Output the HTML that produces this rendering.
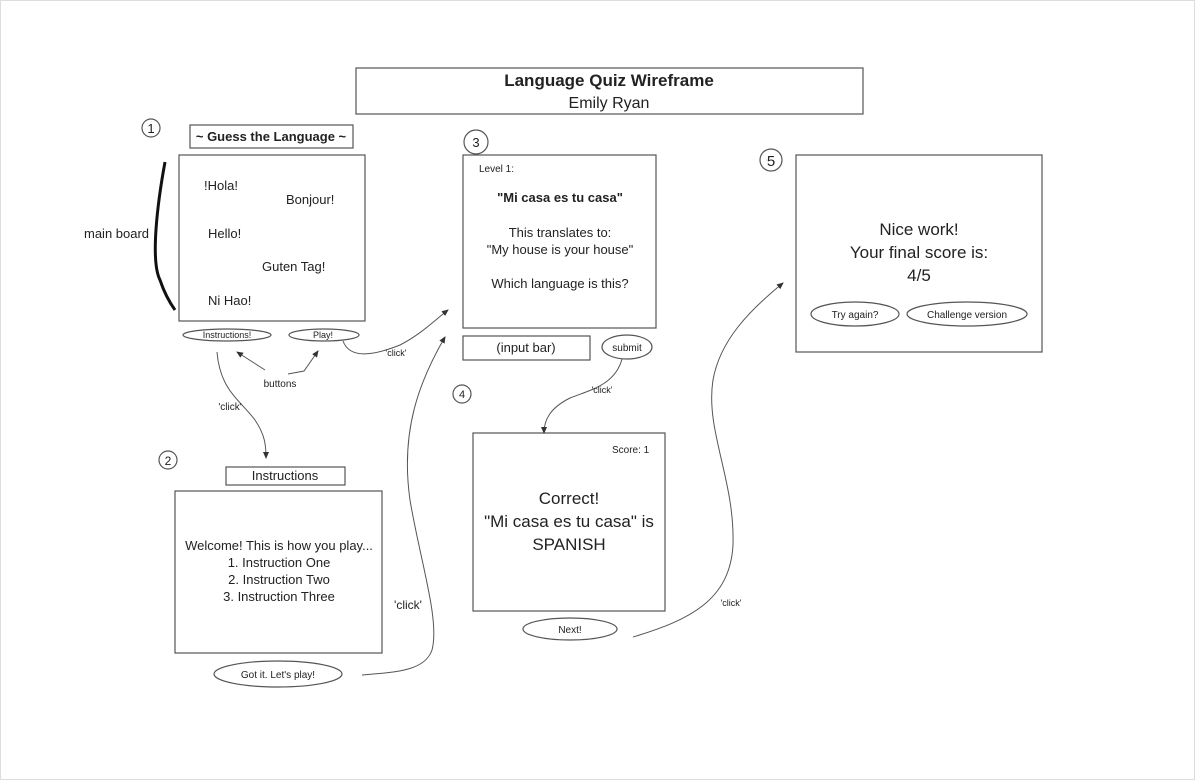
<!DOCTYPE html>
<html><head><meta charset="utf-8"><style>
html,body{margin:0;padding:0;background:#fff;}
svg{display:block;}
text{font-family:"Liberation Sans",sans-serif;fill:#222;}
</style></head><body>
<svg width="1195" height="780" viewBox="0 0 1195 780" xmlns="http://www.w3.org/2000/svg">
<defs><marker id="a" markerWidth="8" markerHeight="8" refX="6" refY="4" orient="auto" markerUnits="userSpaceOnUse"><path d="M0,1 L7,4 L0,7 Z" fill="#333"/></marker></defs>
<rect x="0.5" y="0.5" width="1194" height="779" fill="#fff" stroke="#ddd"/>
<g fill="none" stroke="#555" stroke-width="1.2">
<rect x="356" y="68" width="507" height="46"/>
<rect x="190" y="125" width="163" height="23"/>
<rect x="179" y="155" width="186" height="166"/>
<rect x="226" y="467" width="119" height="18"/>
<rect x="175" y="491" width="207" height="162"/>
<rect x="463" y="155" width="193" height="173"/>
<rect x="463" y="336" width="127" height="24"/>
<rect x="473" y="433" width="192" height="178"/>
<rect x="796" y="155" width="246" height="197"/>
<ellipse cx="227" cy="335" rx="44" ry="6"/>
<ellipse cx="324" cy="335" rx="35" ry="6"/>
<ellipse cx="278" cy="674" rx="64" ry="13"/>
<ellipse cx="627" cy="347" rx="25" ry="12"/>
<ellipse cx="570" cy="629" rx="47" ry="11"/>
<ellipse cx="855" cy="314" rx="44" ry="12"/>
<ellipse cx="967" cy="314" rx="60" ry="12"/>
<circle cx="151" cy="128" r="9"/>
<circle cx="168" cy="460" r="9"/>
<circle cx="476" cy="142" r="12"/>
<circle cx="462" cy="394" r="9"/>
<circle cx="771" cy="160" r="11"/>
</g>
<path d="M165,162 C158,200 150,260 160,280 C165,295 170,303 175,310" fill="none" stroke="#111" stroke-width="3"/>
<g fill="none" stroke="#555" stroke-width="1" marker-end="url(#a)">
<path d="M265,370 L237,352"/>
<path d="M288,374 L304,371 L318,351"/>
<path d="M343,341 C350,360 375,355 400,345 C420,335 435,320 448,310"/>
<path d="M217,352 C220,390 240,400 255,420 C265,435 266,445 266,458"/>
<path d="M362,675 C400,672 425,670 432,650 C440,620 420,560 410,500 C400,430 420,380 445,337"/>
<path d="M622,359 C615,385 590,390 570,398 C550,408 544,420 544,433"/>
<path d="M633,637 C690,620 730,600 733,545 C735,480 705,430 713,380 C720,340 750,310 783,283"/>
</g>
<text x="609" y="86" text-anchor="middle" font-size="17" font-weight="bold">Language Quiz Wireframe</text>
<text x="609" y="108" text-anchor="middle" font-size="16">Emily Ryan</text>
<text x="151" y="133" text-anchor="middle" font-size="13">1</text>
<text x="168" y="465" text-anchor="middle" font-size="12">2</text>
<text x="476" y="147" text-anchor="middle" font-size="13">3</text>
<text x="462" y="398" text-anchor="middle" font-size="11">4</text>
<text x="771" y="166" text-anchor="middle" font-size="15">5</text>
<text x="271" y="141" text-anchor="middle" font-size="13" font-weight="bold">~ Guess the Language ~</text>
<g font-size="13">
<text x="204" y="190">!Hola!</text>
<text x="286" y="204">Bonjour!</text>
<text x="208" y="238">Hello!</text>
<text x="262" y="271">Guten Tag!</text>
<text x="208" y="305">Ni Hao!</text>
<text x="84" y="238">main board</text>
</g>
<text x="227" y="338" text-anchor="middle" font-size="9">Instructions!</text>
<text x="323" y="338" text-anchor="middle" font-size="9">Play!</text>
<text x="280" y="387" text-anchor="middle" font-size="10">buttons</text>
<text x="396" y="356" text-anchor="middle" font-size="9">'click'</text>
<text x="230" y="410" text-anchor="middle" font-size="10">'click'</text>
<text x="285" y="480" text-anchor="middle" font-size="13">Instructions</text>
<g font-size="13" text-anchor="middle">
<text x="279" y="550">Welcome! This is how you play...</text>
<text x="279" y="567">1. Instruction One</text>
<text x="279" y="584">2. Instruction Two</text>
<text x="279" y="601">3. Instruction Three</text>
</g>
<text x="278" y="678" text-anchor="middle" font-size="10">Got it. Let's play!</text>
<text x="408" y="609" text-anchor="middle" font-size="12">'click'</text>
<text x="479" y="172" font-size="10">Level 1:</text>
<g font-size="13" text-anchor="middle">
<text x="560" y="202" font-weight="bold">"Mi casa es tu casa"</text>
<text x="560" y="237">This translates to:</text>
<text x="560" y="254">"My house is your house"</text>
<text x="560" y="288">Which language is this?</text>
<text x="526" y="352">(input bar)</text>
</g>
<text x="627" y="351" text-anchor="middle" font-size="10">submit</text>
<text x="602" y="393" text-anchor="middle" font-size="9">'click'</text>
<text x="612" y="453" font-size="10">Score: 1</text>
<g font-size="17" text-anchor="middle">
<text x="569" y="504">Correct!</text>
<text x="569" y="527">"Mi casa es tu casa" is</text>
<text x="569" y="550">SPANISH</text>
</g>
<text x="570" y="633" text-anchor="middle" font-size="10">Next!</text>
<text x="731" y="606" text-anchor="middle" font-size="9">'click'</text>
<g font-size="17" text-anchor="middle">
<text x="919" y="235">Nice work!</text>
<text x="919" y="258">Your final score is:</text>
<text x="919" y="281">4/5</text>
</g>
<text x="855" y="318" text-anchor="middle" font-size="10">Try again?</text>
<text x="967" y="318" text-anchor="middle" font-size="10">Challenge version</text>
</svg>
</body></html>
